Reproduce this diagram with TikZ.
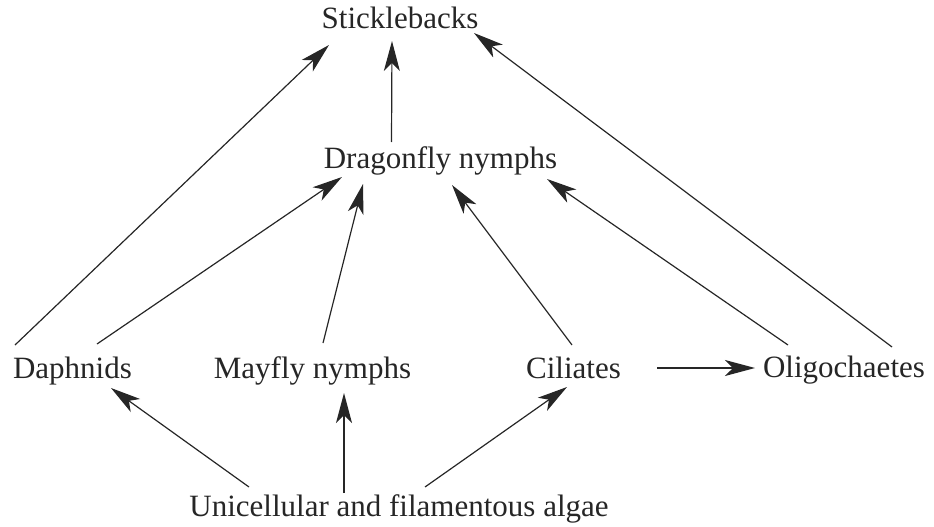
\documentclass[tikz,border=0pt]{standalone}
\usepackage{fontspec}
\setmainfont{Liberation Serif}
\usetikzlibrary{arrows.meta}
\begin{document}
\begin{tikzpicture}[x=1pt,y=-1pt,
  lbl/.style={anchor=base,inner sep=0pt,font=\fontsize{31}{37}\selectfont,text=black!85},
  arr/.style={draw=black!85,line width=1.2pt,-{Stealth[length=30pt,width=16pt,inset=8pt]}}]
\useasboundingbox (0,0) rectangle (934,527);
\node[lbl] (stick) at (400,29) {Sticklebacks};
\node[lbl] (drag) at (440.5,168) {Dragonfly nymphs};
\node[lbl] (daph) at (72.5,378) {Daphnids};
\node[lbl] (may) at (312.5,378) {Mayfly nymphs};
\node[lbl] (cil) at (573.5,378) {Ciliates};
\node[lbl] (olig) at (844,377) {Oligochaetes};
\node[lbl] (alg) at (399,516) {Unicellular and filamentous algae};
\draw[arr] ([shift={(-57.5,-33)}]daph.base) -- ([shift={(-71,16)}]stick.base);
\draw[arr] ([shift={(24.5,-34)}]daph.base) -- ([shift={(-98.5,9)}]drag.base);
\draw[arr] ([shift={(10.5,-35)}]may.base) -- ([shift={(-77.5,16)}]drag.base);
\draw[arr] ([shift={(-1.5,-33)}]cil.base) -- ([shift={(11.5,17)}]drag.base);
\draw[arr] ([shift={(-56,-32)}]olig.base) -- ([shift={(106.5,11)}]drag.base);
\draw[arr] ([shift={(48,-30)}]olig.base) -- ([shift={(74,4)}]stick.base);
\draw[arr] ([shift={(-49,-26)}]drag.base) -- ([shift={(-8,12)}]stick.base);
\draw[arr] ([shift={(83.5,-10)}]cil.base) -- ([shift={(-89,-9)}]olig.base);
\draw[arr] ([shift={(-150,-29)}]alg.base) -- ([shift={(38.5,10)}]daph.base);
\draw[arr] ([shift={(-55,-23)}]alg.base) -- ([shift={(31.5,15)}]may.base);
\draw[arr] ([shift={(26,-29)}]alg.base) -- ([shift={(-6.5,9)}]cil.base);
\end{tikzpicture}
\end{document}
